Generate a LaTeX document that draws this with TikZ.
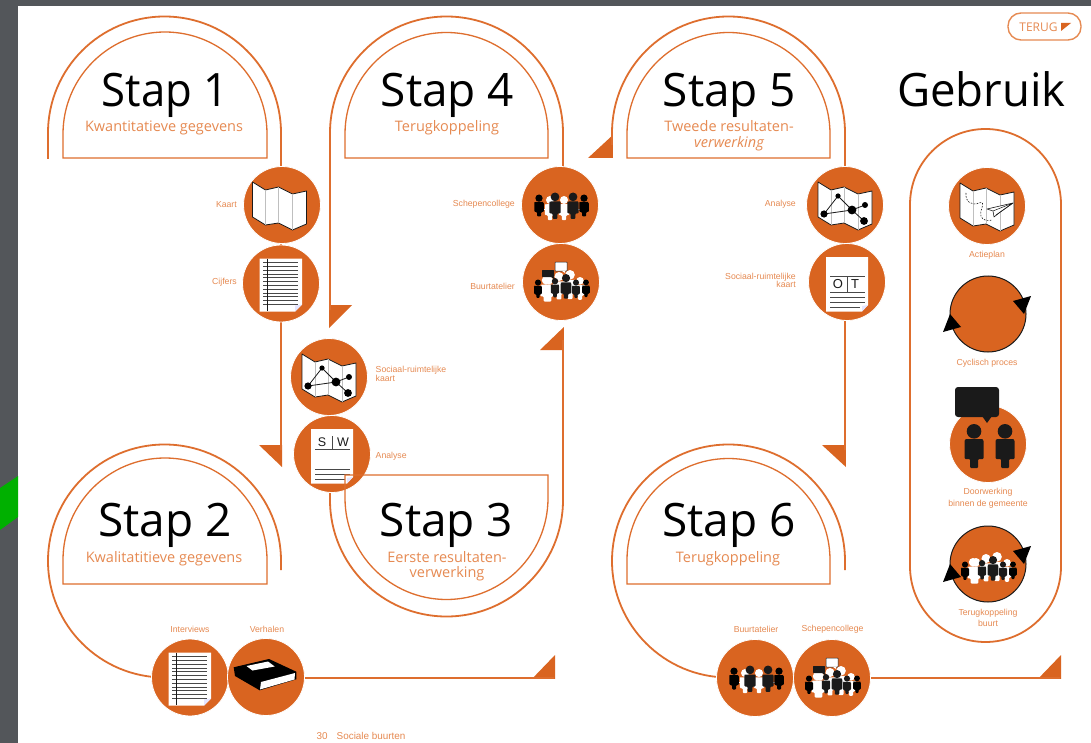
\documentclass[tikz,border=0pt]{standalone}
\usepackage{graphicx}
\usepackage{fontspec}
\setmainfont{Liberation Sans}
\newfontfamily\titlefont{Open Sans}
\usetikzlibrary{calc}
\definecolor{oran}{HTML}{D96420}
\definecolor{lineor}{HTML}{DE6E2E}
\definecolor{txtor}{HTML}{E68A52}
\definecolor{slate}{HTML}{53565A}
\definecolor{lime}{HTML}{00B000}
\definecolor{ink}{HTML}{1A1A1A}
\tikzset{
  outer/.style={draw=lineor,line width=1.8pt},
  inner/.style={draw=lineor,line width=1.3pt,line join=miter},
  disc/.style={circle,fill=oran,draw=white,line width=0.8pt,minimum size=77pt,inner sep=0pt},
  tip/.style={fill=oran,draw=none},
  lab/.style={text=txtor,font=\fontsize{8.7}{10}\selectfont,inner sep=0pt,align=center},
  labr/.style={lab,anchor=mid east,align=right},
  labl/.style={lab,anchor=mid west,align=left},
  bigt/.style={anchor=base,text=black,inner sep=0pt,font=\titlefont\fontsize{46}{48}\selectfont},
  subt/.style={anchor=base,text=txtor,inner sep=0pt,align=center,font=\titlefont\fontsize{14.5}{15.5}\selectfont},
  fold/.style={draw=black!25,line width=0.6pt},
  mapo/.style={fill=white,draw=ink,line width=0.8pt,line join=round},
  rul/.style={draw=ink!80,line width=0.8pt},
}
% folded map
\newcommand{\mapicon}[1]{\begin{scope}[shift={(#1)}]
  \draw[mapo] (-27,-23)--(-14,-15)--(-1,-18)--(13,-11)--(27,-14)--(27,19)--(13,25)--(-1,18)--(-14,20)--(-27,12)--cycle;
  \draw[fold] (-14,-15)--(-14,20) (-1,-18)--(-1,18) (13,-11)--(13,25);
\end{scope}}
\newcommand{\neticon}[1]{\mapicon{#1}\begin{scope}[shift={(#1)}]
  \draw[ink,line width=0.8pt] (-21,9)--(-7,-9)--(7,5)--(20,0) (-21,9)--(7,5)--(19,16);
  \fill[black] (-21,9) circle (3.6) (-7,-9) circle (2.6) (7,5) circle (4.4) (20,0) circle (3) (19,16) circle (3.9);
\end{scope}}
% ruled sheet
\newcommand{\sheet}[1]{\begin{scope}[shift={(#1)}]
  \fill[white] (-21.5,-25)--(21,-25)--(21,21)--(14,28)--(-21.5,28)--cycle;
  \fill[blue!10] (21,21)--(14,28)--(14,22)--cycle;
  \foreach \y in {-21,-17.2,-13.4,-9.6,-5.8,-2,1.8,5.6,9.4,13.2,17,21}{\draw[rul,line width=0.7pt] (-18,\y)--(17,\y);}
  \draw[ink,line width=1pt] (-13.5,-25)--(-13.5,27);
\end{scope}}
% analysis sheet; args: centre, left letter, right letter, variant
\newcommand{\docicon}[4]{\begin{scope}[shift={(#1)}]
  \fill[white] (-21,-25)--(21,-25)--(21,23)--(15,29.5)--(-21,29.5)--cycle;
  \fill[blue!10] (21,23)--(15,29.5)--(15,24)--cycle;
  \ifnum#4=1 \draw[rul,line width=0.7pt] (-17,-6)--(18,-6); \draw[rul,line width=0.7pt] (-17,10)--(18,10);
    \draw[rul,line width=0.7pt] (0,-6)--(0,10);
    \node[inner sep=0pt,text=ink,font=\fontsize{13}{13}\selectfont] at (-9,2) {#2};
    \node[inner sep=0pt,text=ink,font=\fontsize{13}{13}\selectfont] at (8,2) {#3};
  \else \draw[rul,line width=0.7pt] (-17,-5)--(18,-5);
    \draw[rul,line width=0.7pt] (0,-18)--(0,-5);
    \node[inner sep=0pt,text=ink,font=\fontsize{12.5}{13}\selectfont] at (-10,-12) {#2};
    \node[inner sep=0pt,text=ink,font=\fontsize{12.5}{13}\selectfont] at (11,-12) {#3};
  \fi
  \draw[rul,line width=0.7pt] (-17,15)--(18,15) (-17,20)--(18,20) (-17,25)--(13,25);
\end{scope}}
% person: x, top y, scale, colour
\newcommand{\ppl}[4]{\begin{scope}[shift={(#1,#2)},scale=#3]
  \fill[#4] (0,7.3) circle (7.3);
  \fill[#4] (-8,15)--(8,15)[rounded corners=1pt]--(9.5,16)--(9.5,35)--(4,35)--(4,44)--(-4,44)--(-4,35)--(-9.5,35)--(-9.5,16)--cycle;
\end{scope}}
\newcommand{\tableicon}[1]{\begin{scope}[shift={(#1)}]
  \ppl{-10}{-9}{.55}{white}\ppl{4}{-9}{.55}{white}
  \fill[white] (-18,4) rectangle (20,5);
  \ppl{-21}{-10.5}{.5}{black}\ppl{-5}{-12.5}{.6}{ink}\ppl{13}{-12.5}{.6}{ink}\ppl{24}{-10.5}{.5}{black}
\end{scope}}
\newcommand{\crowdicon}[1]{\begin{scope}[shift={(#1)}]
  \ppl{-15}{-6}{.58}{white}\ppl{-12}{-6}{.58}{white}\ppl{-2}{-10}{.62}{white}\ppl{9}{-12}{.66}{white}\ppl{19}{-5}{.52}{white}
  \ppl{-23}{-2.5}{.42}{black}\ppl{-6}{-4}{.44}{ink}\ppl{5}{-8}{.56}{ink}\ppl{15}{-2.5}{.42}{ink}\ppl{25}{-2.5}{.4}{black}
\end{scope}}
\newcommand{\bubbles}[1]{\begin{scope}[shift={(#1)}]
  \fill[ink,rounded corners=.6pt] (-19,-12) rectangle (-7,-5);
  \fill[ink] (-10,-5)--(-7,-5)--(-7,-3)--cycle;
  \filldraw[fill=white,draw=ink,line width=0.5pt,rounded corners=.6pt] (-6,-20) rectangle (6,-11);
  \fill[white] (1,-11)--(4,-11)--(4,-9)--cycle;
\end{scope}}
\newcommand{\arrowpair}[1]{\begin{scope}[shift={(#1)}]
  \fill[black] (43,-18)--(25,-13)--(36,0)--cycle;
  \fill[black] (-45,18)--(-27,13)--(-38,0)--cycle;
\end{scope}}
\begin{document}
\begin{tikzpicture}[x=1pt,y=-1pt]
\useasboundingbox (0,0) rectangle (1091,743);
\fill[slate] (0,0) rectangle (1091,743);
\fill[white] (18,6) rectangle (1091,743);
\fill[lime] (0,488)--(18,476)--(18,517)--(0,530)--cycle;

% free ends
\coordinate (s1a) at (48,159);
\coordinate (s2a) at (281,570);
\coordinate (s6a) at (845,570);
% arrow tips
\fill[tip] (259,445) -- (282,445) -- (282,467) -- cycle;
\fill[tip] (329,305) -- (352,305) -- (329,328) -- cycle;
\fill[tip] (540,350) -- (563.9,327) -- (563.9,350) -- cycle;
\fill[tip] (588,158) -- (612.9,135) -- (612.9,158) -- cycle;
\fill[tip] (822,445) -- (845.9,445) -- (845.9,467) -- cycle;
\fill[tip] (532,678.9) -- (555,655) -- (555,678.9) -- cycle;
\fill[tip] (1038,678.9) -- (1061,655) -- (1061,678.9) -- cycle;
\coordinate (t1) at (281,450);
\coordinate (t2) at (330,310);
\coordinate (t3) at (563,340);
\coordinate (t4) at (612,145);
\coordinate (t5) at (845,450);
\coordinate (t6) at (554,678);
\coordinate (t7) at (1060,678);

% circles' positions
\coordinate (pk) at (282,205);
\coordinate (pc) at (281,283.5);
\coordinate (psk) at (329,377);
\coordinate (pa) at (332,454);
\coordinate (psc) at (560,205);
\coordinate (pb) at (561,282);
\coordinate (pa5) at (845,205);
\coordinate (pot) at (847,282);
\coordinate (pi) at (190,677.5);
\coordinate (pv) at (266,677);
\coordinate (pb6) at (755,678);
\coordinate (ps6) at (832,678);

% outer routes
\draw[outer] (s1a) -- (48,133) arc (180:360:116.5) -- (t1);
\draw[outer] (t2) -- (330,133) arc (180:360:116.5) -- (563,190);
\draw[outer] (t3) -- (563,500) arc (0:180:116.5) -- (330,470);
\draw[outer] (t4) -- (612,133) arc (180:360:116.5) -- (t5);
\draw[outer] (s2a) -- (281,561) arc (360:90:116.5) -- (pi);
\draw[outer] (pv |- t6) -- (t6);
\draw[outer] (s6a) -- (845,561) arc (360:90:116.5) -- (pb6);
\draw[outer] (ps6) -- (t7);
% Gebruik pill
\draw[outer] (910,204.5) arc (180:360:75.5) -- (1061,566.5) arc (0:180:75.5) -- cycle;

% inner arches
\draw[inner] (63,158) -- (63,134) arc (180:360:102) -- (267,158) -- cycle;
\draw[inner] (345,158) -- (345,134) arc (180:360:101.5) -- (548,158) -- cycle;
\draw[inner] (627,158) -- (627,134) arc (180:360:101.5) -- (830,158) -- cycle;
\draw[inner] (63,584) -- (63,560) arc (180:360:102) -- (267,584) -- cycle;
\draw[inner] (627,584) -- (627,560) arc (180:360:101.5) -- (830,584) -- cycle;

% discs
\node[disc] (kaart) at (pk) {};
\node[disc] (cijfers) at (pc) {};
\node[disc] (sockaart) at (psk) {};
\node[disc] (analyse) at (pa) {};
\node[disc] (schep) at (psc) {};
\node[disc] (buurt) at (pb) {};
\node[disc] (analyse5) at (pa5) {};
\node[disc] (ot) at (pot) {};
\node[disc] (interv) at (pi) {};
\node[disc] (verh) at (pv) {};
\node[disc] (buurt6) at (pb6) {};
\node[disc] (schep6) at (ps6) {};
\node[disc] (actie) at (987,206) {};
\node[disc,draw=ink,line width=1pt,minimum size=76pt] (cyc) at (988,314) {};
\node[disc] (door) at (988,444) {};
\node[disc,draw=ink,line width=1pt,minimum size=76pt] (terug) at (988,564) {};

% icons
\mapicon{$(kaart.center)+(-2.5,0)$}
\sheet{cijfers.center}
\neticon{sockaart.center}
\docicon{analyse.center}{S}{W}{0}
\tableicon{schep.center}
\crowdicon{buurt.center}\bubbles{buurt.center}
\neticon{analyse5.center}
\docicon{ot.center}{O}{T}{1}
\sheet{interv.center}
\begin{scope}[shift={(verh.center)}]
  \fill[black] (-32.3,-9.7)--(3,-18)--(30.3,-5.3)--(30.3,2.3)--(-6.3,13.3)--(-31,-1)--cycle;
  \fill[white] (-5,5)--(29,-4)--(28.5,2.5)--(-6,12.5)--cycle;
  \fill[white] (-19.5,-11)--(2,-15.5)--(8.7,-10.5)--(-13.5,-6.5)--cycle;
\end{scope}
\tableicon{buurt6.center}
\crowdicon{schep6.center}\bubbles{schep6.center}
\mapicon{actie.center}
\begin{scope}[shift={(actie.center)}]
  \draw[ink,line width=0.6pt,dash pattern=on 1.6pt off 1.4pt] (-21,-13) .. controls (-22,-4) and (-15,0) .. (-8,-3) .. controls (0,-6) and (-8,5) .. (-6,10) .. controls (-5,15) and (2,15) .. (5,14);
  \filldraw[fill=white,draw=ink,line width=0.6pt,line join=round] (26,-3)--(0,3)--(6,5)--(7,11)--(12,7)--cycle;
  \draw[ink,line width=0.5pt] (26,-3)--(6,5) (26,-3)--(9,9);
\end{scope}
\arrowpair{cyc.center}
\begin{scope}[shift={(door.center)}]
  \ppl{-14}{-20}{1}{ink}\ppl{17}{-20}{1}{ink}
  \fill[ink,rounded corners=3pt] (-33,-57) rectangle (11,-27);
  \fill[ink] (-6,-28)--(4,-28)--(-1,-21)--cycle;
\end{scope}
\crowdicon{terug.center}
\arrowpair{terug.center}

% Stap 3 inner arch lies over the disc
\draw[inner] (345,475) -- (345,498) arc (180:0:101.5) -- (548,475) -- cycle;

% titles
\node[bigt] (st1) at (165,107) {\scalebox{.95}[1]{Stap 1}};
\node[bigt] (st4) at (447.5,107) {Stap 4};
\node[bigt] (st5) at (729.5,107) {Stap 5};
\node[bigt] (geb) at (981.5,107) {\scalebox{.99}[1]{Gebruik}};
\node[bigt] (st2) at (165,536) {Stap 2};
\node[bigt] (st3) at (446.5,536) {Stap 3};
\node[bigt] (st6) at (729,536) {Stap 6};
\node[subt] (su1) at (164,132) {Kwantitatieve gegevens};
\node[subt] (su4) at (447,132) {Terugkoppeling};
\node[subt] (su5) at (729,132) {Tweede resultaten-};
\node[subt] (su5b) at (729,148) {\itshape verwerking};
\node[subt] (su2) at (164,562) {Kwalitatitieve gegevens};
\node[subt] (su3) at (447,562) {Eerste resultaten-};
\node[subt] (su3b) at (447,577) {verwerking};
\node[subt] (su6) at (728,562) {Terugkoppeling};

% small labels
\node[labr] (l1) at (237,204.5) {Kaart};
\node[labr] (l2) at (237,282) {Cijfers};
\node[labl] (l3) at (375.5,378.5) {Sociaal-ruimtelijke\\[-1.5pt]kaart};
\node[labl] (l4) at (375.5,456) {Analyse};
\node[labr] (l5) at (515,203.5) {Schepencollege};
\node[labr] (l6) at (515,287) {Buurtatelier};
\node[labr] (l7) at (796,203.5) {Analyse};
\node[labr] (l8) at (796,285) {Sociaal-ruimtelijke\\[-1.5pt]kaart};
\node[lab] (l9) at (987,255) {Actieplan};
\node[lab] (l10) at (987,363.5) {Cyclisch proces};
\node[lab] (l11) at (988,498) {Doorwerking\\[1.5pt]binnen de gemeente};
\node[lab] (l12) at (988,617.5) {Terugkoppeling\\[1pt]buurt};
\node[lab] (l13) at (190,629.5) {Interviews};
\node[lab] (l14) at (267,629.5) {Verhalen};
\node[lab] (l15) at (756,629.5) {Buurtatelier};
\node[lab] (l16) at (832.5,629.5) {Schepencollege};
\node[lab,anchor=mid west,font=\fontsize{9.9}{11}\selectfont] (l17) at (316.5,737) {30\hspace{9pt}Sociale buurten};

% back button
\node[draw=txtor,line width=1.4pt,rounded corners=13pt,minimum width=73pt,minimum height=27pt,inner sep=0pt] (btn) at (1044.5,26.5) {};
\node[inner sep=0pt,text=txtor,font=\titlefont\fontsize{12}{12}\selectfont] (btnt) at (1038.5,27) {TERUG};
\fill[oran] (1061,23)--(1071,23)--(1061,31)--cycle;
\end{tikzpicture}
\end{document}
